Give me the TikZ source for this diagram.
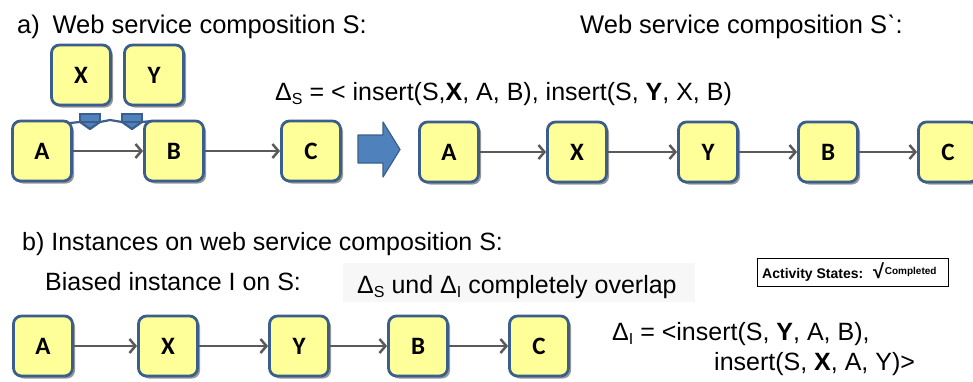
\documentclass[tikz,border=0pt]{standalone}
\usepackage{fontspec}
\setmainfont{Liberation Sans}
\newfontfamily\boxfont{Carlito}
\usetikzlibrary{arrows.meta,shadows}

\definecolor{nodefill}{HTML}{FFFF99}
\definecolor{nodeline}{HTML}{3B5E8C}
\definecolor{edgegray}{HTML}{5A5A5A}
\definecolor{insertblue}{HTML}{4F81BD}
\definecolor{notegray}{HTML}{F7F7F7}

\newcommand\lowidx[1]{\raisebox{-0.35ex}{\fontsize{16}{16}\selectfont #1}}

\begin{document}
\begin{tikzpicture}[x=1pt,y=-1pt,
  svc/.style={draw=nodeline, line width=2.8pt, fill=nodefill, rounded corners=8pt,
    minimum width=59pt, minimum height=60pt, inner sep=0pt,
    font=\boxfont\bfseries\fontsize{25}{25}\selectfont,
    drop shadow={shadow xshift=2.5pt, shadow yshift=-2.5pt, fill=gray!80, opacity=1}},
  flow/.style={draw=edgegray, line width=2.5pt, -{Straight Barb[length=6pt,width=14pt,line width=2.5pt]}},
  title/.style={anchor=base west, inner sep=0pt, font=\fontsize{25.5}{30}\selectfont},
  formula/.style={anchor=base west, inner sep=0pt, font=\fontsize{25}{30}\selectfont},
  insertmark/.style={fill=insertblue, draw=nodeline, line width=1.2pt, line join=round}
]
\useasboundingbox (0,0) rectangle (973,381);

% headings
\node[title] (ha) at (17,33) {a)\hspace{0.5em}Web service composition S:};
\node[title] (hb) at (580,33) {Web service composition Sˋ:};
\node[formula] (ds) at (275,100) {Δ\lowidx{S} = < insert(S,\textbf{X}, A, B), insert(S, \textbf{Y}, X, B)};

% composition S with the two pending inserts
\node[svc] (sA) at (42,151) {A};
\node[svc] (sB) at (174,151) {B};
\node[svc] (sC) at (311,151) {C};
\node[svc] (sX) at (81,75) {X};
\node[svc] (sY) at (154,75) {Y};
\draw[flow] (sA) -- (sB);
\draw[flow] (sB) -- (sC);

% insertion markers between A and B
\fill[insertblue] (80,114) -- (100,114) -- (100,122) -- (90,129) -- (80,122) -- cycle;
\fill[insertblue] (122,114) -- (142,114) -- (142,122) -- (132,129) -- (122,122) -- cycle;
\draw[nodeline, line width=2.2pt, line join=round]
  (70,123) -- (80,122) -- (90,129) -- (100,122) -- (110,120) -- (122,122) -- (132,129) -- (142,122) -- (152,121);
\draw[nodeline, line width=1.2pt] (80,114) rectangle (100,122) (122,114) rectangle (142,122);

% transformation arrow
\path[insertmark] (358,135) -- (383,135) -- (383,122) -- (400,149.5) -- (383,177) -- (383,163) -- (358,163) -- cycle;

% composition S'
\node[svc] (rA) at (449,152) {A};
\node[svc] (rX) at (577,152) {X};
\node[svc] (rY) at (708,152) {Y};
\node[svc] (rB) at (828,152) {B};
\node[svc] (rC) at (948,152) {C};
\draw[flow] (rA) -- (rX);
\draw[flow] (rX) -- (rY);
\draw[flow] (rY) -- (rB);
\draw[flow] (rB) -- (rC);

% part b
\node[formula] (hbb) at (22,250) {b) Instances on web service composition S:};
\node[formula] (bi) at (45,290) {Biased instance I on S:};
\fill[notegray] (343,263) rectangle (695,302);
\node[formula] (ov) at (357,293) {Δ\lowidx{S} und Δ\lowidx{I} completely overlap};

\draw[black, line width=1pt] (757,258) rectangle (948,286);
\node[anchor=base west, inner sep=0pt] (st) at (762,278)
  {\fontsize{14}{14}\selectfont\bfseries Activity States:\hspace{0.7em}{\fontsize{20}{20}\selectfont √}\hspace{0.05em}\raisebox{0.45ex}{\fontsize{10}{10}\selectfont Completed}};

\node[svc] (iA) at (43,346) {A};
\node[svc] (iX) at (168,346) {X};
\node[svc] (iY) at (299,346) {Y};
\node[svc] (iB) at (418,346) {B};
\node[svc] (iC) at (539,346) {C};
\draw[flow] (iA) -- (iX);
\draw[flow] (iX) -- (iY);
\draw[flow] (iY) -- (iB);
\draw[flow] (iB) -- (iC);

\node[formula] (di1) at (612,340) {Δ\lowidx{I} = <insert(S, \textbf{Y}, A, B),};
\node[formula] (di2) at (714,370) {insert(S, \textbf{X}, A, Y)>};
\end{tikzpicture}
\end{document}
